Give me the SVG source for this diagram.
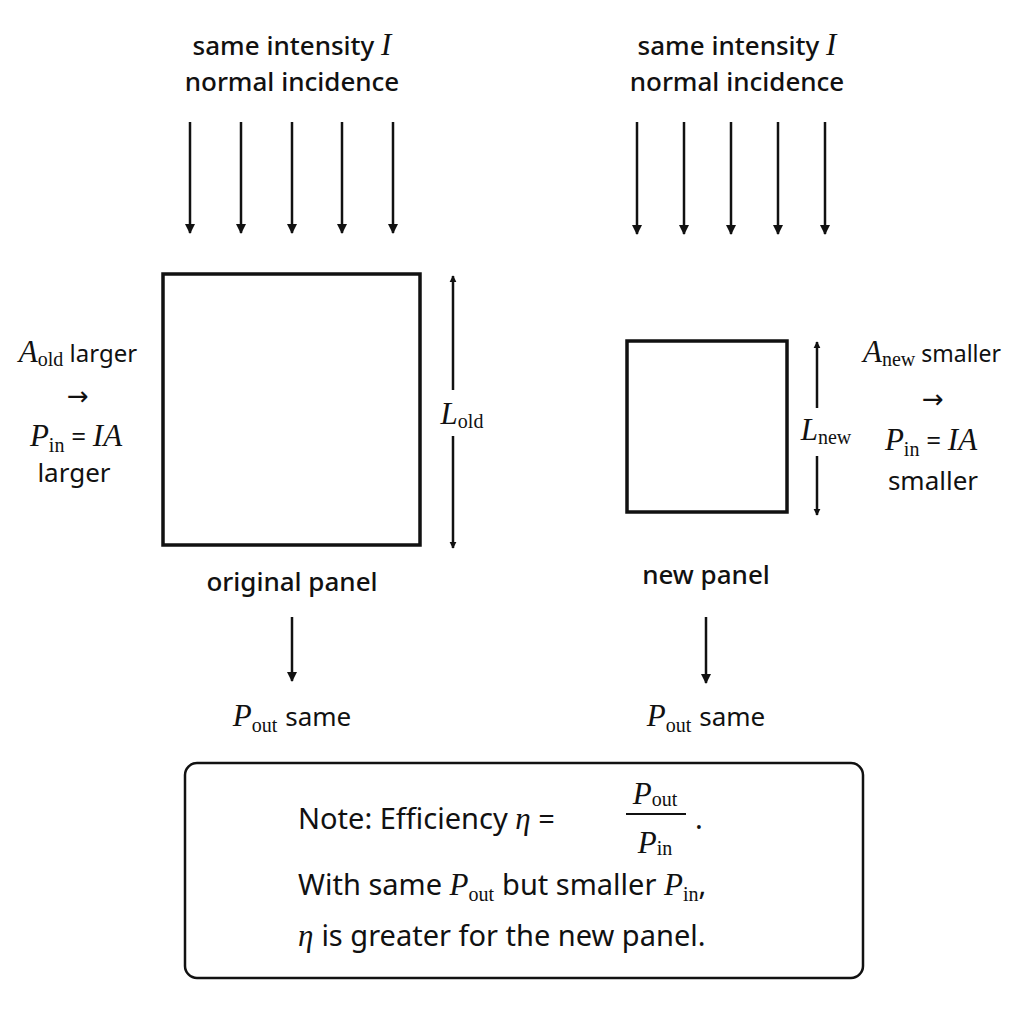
<svg xmlns="http://www.w3.org/2000/svg" width="1024" height="1024" viewBox="0 0 1024 1024">
<defs>
<marker id="ah" viewBox="0 0 10 10" refX="9" refY="5" markerWidth="7" markerHeight="9" markerUnits="userSpaceOnUse" orient="auto"><path d="M0,0 L10,5 L0,10 Z" fill="#111"/></marker>
<marker id="ah2" viewBox="0 0 10 10" refX="9" refY="5" markerWidth="10" markerHeight="14" markerUnits="userSpaceOnUse" orient="auto"><path d="M0,0 L10,5 L0,10 Z" fill="#111"/></marker>
<style>
text{font-family:"Noto Sans","Open Sans",sans-serif;font-size:26px;fill:#111;text-anchor:middle}
.l{text-anchor:start}
.m{font-family:"Liberation Serif","DejaVu Serif",serif;font-style:italic;font-size:31px}
.s{font-family:"Liberation Serif","DejaVu Serif",serif;font-style:normal;font-size:20px}
.arw{font-family:"DejaVu Sans",sans-serif;font-size:26px}
.big{font-size:29px}
.b{font-weight:500}
.ar{stroke:#111;stroke-width:2.5;fill:none}
.panel{fill:#fff;stroke:#111;stroke-width:3.5}
</style>
</defs>
<rect width="1024" height="1024" fill="#fff"/>
<g id="connectors">
<line class="ar" x1="190" y1="122" x2="190" y2="233" marker-end="url(#ah2)"/>
<line class="ar" x1="241" y1="122" x2="241" y2="233" marker-end="url(#ah2)"/>
<line class="ar" x1="292" y1="122" x2="292" y2="233" marker-end="url(#ah2)"/>
<line class="ar" x1="342" y1="122" x2="342" y2="233" marker-end="url(#ah2)"/>
<line class="ar" x1="393" y1="122" x2="393" y2="233" marker-end="url(#ah2)"/>
<line class="ar" x1="637" y1="122" x2="637" y2="234" marker-end="url(#ah2)"/>
<line class="ar" x1="684" y1="122" x2="684" y2="234" marker-end="url(#ah2)"/>
<line class="ar" x1="731" y1="122" x2="731" y2="234" marker-end="url(#ah2)"/>
<line class="ar" x1="778" y1="122" x2="778" y2="234" marker-end="url(#ah2)"/>
<line class="ar" x1="825" y1="122" x2="825" y2="234" marker-end="url(#ah2)"/>
<line class="ar" stroke-width="1.8" x1="453" y1="390" x2="453" y2="276" marker-end="url(#ah)"/>
<line class="ar" stroke-width="1.8" x1="453" y1="436" x2="453" y2="548" marker-end="url(#ah)"/>
<line class="ar" stroke-width="1.8" x1="817" y1="408" x2="817" y2="342" marker-end="url(#ah)"/>
<line class="ar" stroke-width="1.8" x1="817" y1="456" x2="817" y2="515" marker-end="url(#ah)"/>
<line class="ar" x1="292" y1="617" x2="292" y2="681" marker-end="url(#ah2)"/>
<line class="ar" x1="706" y1="617" x2="706" y2="683" marker-end="url(#ah2)"/>
</g>
<g id="top-left"><text x="292" y="55" class="b">same intensity <tspan class="m">I</tspan></text><text x="292" y="91" class="b">normal incidence</text></g>
<g id="top-right"><text x="737" y="55" class="b">same intensity <tspan class="m">I</tspan></text><text x="737" y="91" class="b">normal incidence</text></g>
<g id="original-panel"><rect class="panel" x="163" y="274" width="257" height="271"/><text x="292" y="591" class="b">original panel</text></g>
<g id="new-panel"><rect class="panel" x="627" y="341" width="160" height="171"/><text x="706" y="584" class="b">new panel</text></g>
<g id="L-old"><text x="462" y="424"><tspan class="m">L</tspan><tspan class="s" dy="4">old</tspan></text></g>
<g id="L-new"><text x="826" y="440"><tspan class="m">L</tspan><tspan class="s" dy="4">new</tspan></text></g>
<g id="left-info">
<text x="78" y="362" style="font-size:24px"><tspan class="m">A</tspan><tspan class="s" dy="4">old</tspan><tspan dy="-4"> larger</tspan></text>
<text x="78" y="405" class="arw">→</text>
<text x="76" y="446"><tspan class="m">P</tspan><tspan class="s" dy="6">in</tspan><tspan dy="-6"> = </tspan><tspan class="m">IA</tspan></text>
<text x="74" y="482">larger</text>
</g>
<g id="right-info">
<text x="932" y="362" style="font-size:23px"><tspan class="m">A</tspan><tspan class="s" dy="4">new</tspan><tspan dy="-4"> smaller</tspan></text>
<text x="933" y="408" class="arw">→</text>
<text x="931" y="450"><tspan class="m">P</tspan><tspan class="s" dy="6">in</tspan><tspan dy="-6"> = </tspan><tspan class="m">IA</tspan></text>
<text x="933" y="490">smaller</text>
</g>
<g id="pout-left"><text x="292" y="726"><tspan class="m">P</tspan><tspan class="s" dy="6">out</tspan><tspan dy="-6" dx="8">same</tspan></text></g>
<g id="pout-right"><text x="706" y="726"><tspan class="m">P</tspan><tspan class="s" dy="6">out</tspan><tspan dy="-6" dx="8">same</tspan></text></g>
<g id="note">
<rect x="185" y="763" width="678" height="215" rx="12" fill="#fff" stroke="#111" stroke-width="2.5"/>
<text x="298" y="829" class="l big">Note: Efficiency <tspan class="m">η</tspan> =</text>
<text x="655" y="804"><tspan class="m">P</tspan><tspan class="s" dy="2">out</tspan></text>
<line x1="626" y1="814" x2="686" y2="814" stroke="#111" stroke-width="2"/>
<text x="655" y="853"><tspan class="m">P</tspan><tspan class="s" dy="2">in</tspan></text>
<text x="699" y="829" class="big">.</text>
<text x="298" y="895" class="l big">With same <tspan class="m">P</tspan><tspan class="s" dy="6">out</tspan><tspan dy="-6" dx="8">but smaller </tspan><tspan class="m">P</tspan><tspan class="s" dy="6">in</tspan><tspan dy="-6">,</tspan></text>
<text x="298" y="946" class="l big"><tspan class="m">η</tspan><tspan dx="8">is greater for the new panel.</tspan></text>
</g>
</svg>
